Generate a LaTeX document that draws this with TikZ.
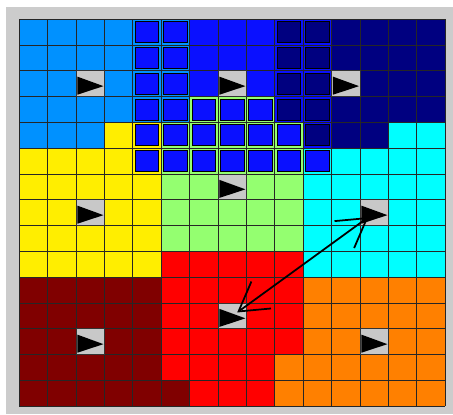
\documentclass[tikz,border=0pt]{standalone}
\usetikzlibrary{arrows.meta}
\definecolor{cL}{HTML}{0091FF}
\definecolor{cB}{HTML}{0A10FF}
\definecolor{cN}{HTML}{000080}
\definecolor{cY}{HTML}{FFEE00}
\definecolor{cG}{HTML}{94FF70}
\definecolor{cC}{HTML}{00FFFF}
\definecolor{cR}{HTML}{FF0000}
\definecolor{cD}{HTML}{800000}
\definecolor{cO}{HTML}{FF8000}
\definecolor{panelgrey}{HTML}{CCCCCC}
\definecolor{agentgrey}{HTML}{C8C8C8}
\def\gridx{19.3}
\def\gridy{19.3}
\def\cellw{28.4}
\def\cellh{25.8}
\def\frameinset{2.4}
\tikzset{
  gridline/.style={draw=black!85,line width=0.8pt},
  taken/.style={draw=black,line width=0.8pt},
  agent/.style={draw=black!80,line width=0.8pt,fill=agentgrey,inner sep=0pt,
                minimum width=0.852cm,minimum height=0.774cm},
  link/.style={{Straight Barb[length=0.84cm,width=1.0cm]}-{Straight Barb[length=0.84cm,width=1.0cm]},
               line width=1.5pt,draw=black},
}
\begin{document}
\begin{tikzpicture}[x=0.03cm,y=-0.03cm]
  \useasboundingbox (0,0) rectangle (453,414);
  \fill[white] (0,0) rectangle (453,414);
  \fill[panelgrey] (6,7) rectangle (453,414);

  % cell colours, one row per line (framed cells carry their ring colour)
  \foreach \cells [count=\r from 0] in {
    {L,L,L,L,L,L,B,B,B,B,B,N,N,N,N},
    {L,L,L,L,L,L,B,B,B,B,B,N,N,N,N},
    {L,L,L,L,L,L,B,B,B,B,B,N,N,N,N},
    {L,L,L,L,L,L,G,G,G,B,B,N,N,N,N},
    {L,L,L,Y,Y,G,G,G,G,G,B,N,N,C,C},
    {Y,Y,Y,Y,Y,G,G,G,G,G,C,C,C,C,C},
    {Y,Y,Y,Y,Y,G,G,G,G,G,C,C,C,C,C},
    {Y,Y,Y,Y,Y,G,G,G,G,G,C,C,C,C,C},
    {Y,Y,Y,Y,Y,G,G,G,G,G,C,C,C,C,C},
    {Y,Y,Y,Y,Y,R,R,R,R,R,C,C,C,C,C},
    {D,D,D,D,D,R,R,R,R,R,O,O,O,O,O},
    {D,D,D,D,D,R,R,R,R,R,O,O,O,O,O},
    {D,D,D,D,D,R,R,R,R,R,O,O,O,O,O},
    {D,D,D,D,D,R,R,R,R,O,O,O,O,O,O},
    {D,D,D,D,D,D,R,R,R,O,O,O,O,O,O}}{
    \foreach \k [count=\c from 0] in \cells
      \fill[fill=c\k] ({\gridx+\c*\cellw},{\gridy+\r*\cellh}) rectangle ++(\cellw,\cellh);
  }

  % taken-over cells: inner square in the new colour
  \foreach \c/\r/\k in {4/0/B,5/0/B,4/1/B,5/1/B,4/2/B,5/2/B,4/3/B,5/3/B,
      6/3/B,7/3/B,8/3/B,4/4/B,5/4/B,6/4/B,7/4/B,8/4/B,9/4/B,
      4/5/B,5/5/B,6/5/B,7/5/B,8/5/B,9/5/B,10/5/B,
      9/0/N,10/0/N,9/1/N,10/1/N,9/2/N,10/2/N,9/3/N,10/3/N,10/4/N}
    \filldraw[taken,fill=c\k] ({\gridx+\c*\cellw+\frameinset},{\gridy+\r*\cellh+\frameinset})
      rectangle ++({\cellw-2*\frameinset},{\cellh-2*\frameinset});

  \foreach \c in {0,...,15}
    \draw[gridline] ({\gridx+\c*\cellw},\gridy) -- ({\gridx+\c*\cellw},{\gridy+15*\cellh});
  \foreach \r in {0,...,15}
    \draw[gridline] (\gridx,{\gridy+\r*\cellh}) -- ({\gridx+15*\cellw},{\gridy+\r*\cellh});

  % one agent per region
  \foreach \name/\c/\r in {aL/2/2,aB/7/2,aN/11/2,aY/2/7,aG/7/6,aC/12/7,aD/2/12,aR/7/11,aO/12/12}{
    \node[agent] (\name) at ({\gridx+(\c+0.5)*\cellw},{\gridy+(\r+0.5)*\cellh}) {};
    \fill[black,shift={(\name.north west)}] (1.7,6.2) -- (1.7,24.3) -- (27.8,15.7) -- cycle;
  }

  \draw[link,shorten <=0.18cm,shorten >=0.22cm] (aR.center) -- (aC.center);
\end{tikzpicture}
\end{document}
